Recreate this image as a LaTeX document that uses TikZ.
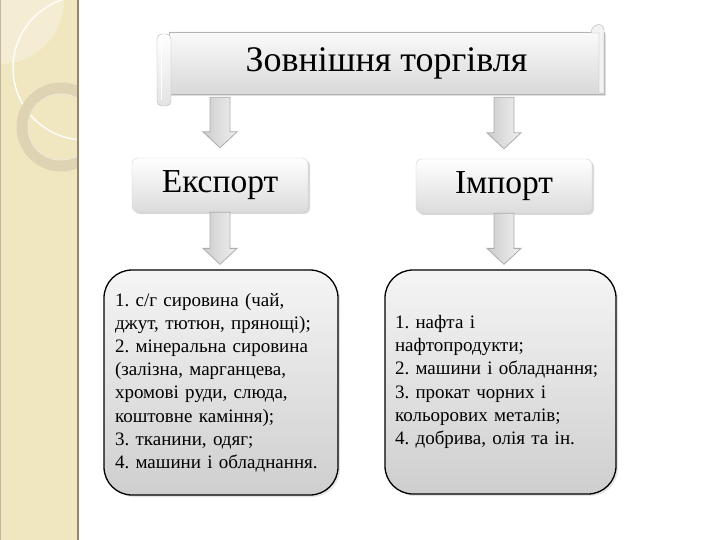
\documentclass[tikz,border=0pt]{standalone}
\usepackage{fontspec}
\setmainfont{Liberation Serif}
\frenchspacing
\usetikzlibrary{calc,shadows}
\definecolor{strip}{RGB}{240,230,192}
\definecolor{stripline}{RGB}{150,135,100}
\definecolor{ringc}{RGB}{222,212,180}
\definecolor{scrolline}{RGB}{180,180,180}
\tikzset{
  titlebox/.style={draw=scrolline, top color=gray!4, bottom color=gray!30,
    minimum width=435pt, minimum height=62pt, inner sep=0pt,
    font=\fontsize{36}{40}\selectfont,
    drop shadow={opacity=.25, shadow xshift=1.5pt, shadow yshift=-2pt}},
  hdrbox/.style={draw=gray!35, rounded corners=6pt, top color=white, bottom color=gray!28,
    minimum width=176pt, minimum height=54pt, inner sep=0pt,
    font=\fontsize{33.5}{36}\selectfont,
    drop shadow={opacity=.3, shadow xshift=2pt, shadow yshift=-2pt}},
  listbox/.style={draw=black, line width=1.3pt, rounded corners=28pt,
    top color=gray!8, bottom color=gray!38, align=left, inner ysep=0pt,
    font=\fontsize{19}{23.2}\selectfont,
    drop shadow={opacity=.2, shadow xshift=2pt, shadow yshift=-2pt}},
  blkarrow/.style={draw=gray!65, line width=0.8pt, left color=gray!40, right color=gray!12}
}
\newcommand\blkarrow[2]{%
  \path[blkarrow] let \p1=#1, \p2=#2 in
    (\x1-10pt,\y1) -- (\x1+10pt,\y1) -- (\x1+10pt,\y2+16pt) -- (\x1+17pt,\y2+16pt)
    -- (\x1,\y2) -- (\x1-17pt,\y2+16pt) -- (\x1-10pt,\y2+16pt) -- cycle;}
\begin{document}
\begin{tikzpicture}[x=1pt,y=-1pt]
\useasboundingbox (0,0) rectangle (720,540);
\fill[white] (0,0) rectangle (720,540);
% decorative strip
\fill[strip] (0,0) rectangle (78,540);
\begin{scope}
  \clip (0,0) rectangle (78,540);
  \fill[white,opacity=0.3] (0,0) circle (64pt);
  \draw[white,opacity=0.9,line width=1.5pt] (85,68) circle (72pt);
  \draw[ringc,line width=12pt] (61,127) circle (38.5pt);
  \draw[white,opacity=0.5,line width=1pt] (61,127) circle (33pt);
\end{scope}
\draw[stripline,line width=1.2pt] (78,0) -- (78,540);
\draw[stripline!60,line width=1pt] (0.5,0) -- (0.5,540);

% title scroll
\node[titlebox] (title) at (386.5,63) {Зовнішня торгівля};
\path[draw=scrolline, top color=white, bottom color=gray!22, rounded corners=5pt]
  (157,34) rectangle (171,106);
\draw[white,line width=1pt] (161,40) -- (161,100);
\path[draw=scrolline, fill=gray!10] (591,33) .. controls (591,24) and (603,21) .. (604,30)
  -- (604,93) -- (599,93) -- (599,33) -- cycle;

% header boxes
\node[hdrbox] (expo) at (220,185) {Експорт};
\node[hdrbox] (impo) at (504,186) {Імпорт};

% list boxes
\node[listbox, minimum width=234pt, minimum height=225pt, text width=212pt, inner xsep=11pt]
  (explist) at (221,382.5) {1. с/г сировина (чай,\\
джут, тютюн, прянощі);\\
2. мінеральна сировина\\
(залізна, марганцева,\\
хромові руди, слюда,\\
коштовне каміння);\\
3. тканини, одяг;\\
4. машини і обладнання.};
\node[listbox, minimum width=231pt, minimum height=224pt, text width=211pt, inner xsep=10pt]
  (implist) at (500.5,382) {1. нафта і\\
нафтопродукти;\\
2. машини і обладнання;\\
3. прокат чорних і\\
кольорових металів;\\
4. добрива, олія та ін.};

% block arrows
\blkarrow{($(title.south -| expo.north)+(0,3)$)}{($(expo.north)+(0,-10)$)}
\blkarrow{($(title.south -| impo.north)+(0,3)$)}{($(impo.north)+(0,-10)$)}
\blkarrow{(expo.south)}{($(explist.north)+(0,-5)$)}
\blkarrow{(impo.south)}{($(implist.north)+(0,-5)$)}
\end{tikzpicture}
\end{document}
